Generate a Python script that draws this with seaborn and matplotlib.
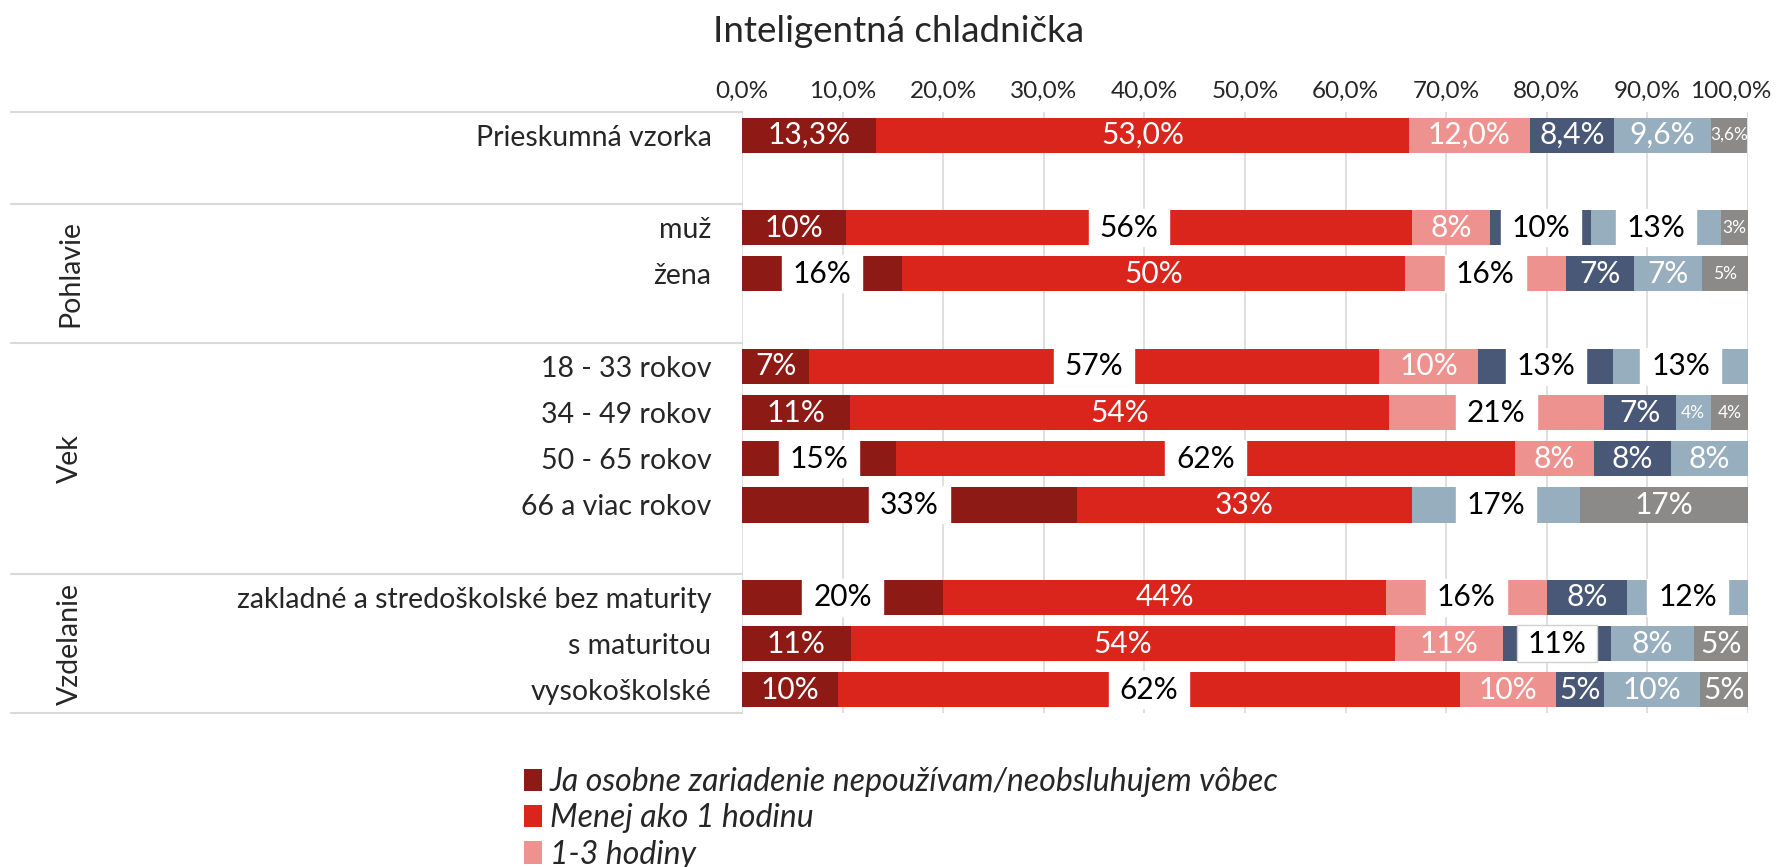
import numpy as np
import matplotlib
matplotlib.use("Agg")
import matplotlib.pyplot as plt
from matplotlib.patches import Patch, Rectangle
from matplotlib.transforms import ScaledTranslation
import seaborn as sns

title = "Inteligentná chladnička"

# rows of the chart, blank strings are the gaps between groups
categories = ["Prieskumná vzorka", " ",
              "muž", "žena", "  ",
              "18 - 33 rokov", "34 - 49 rokov", "50 - 65 rokov", "66 a viac rokov", "   ",
              "zakladné a stredoškolské bez maturity", "s maturitou", "vysokoškolské"]
group_of = [0, 0, 1, 1, 1, 2, 2, 2, 2, 2, 3, 3, 3]
group_names = ["", "Pohlavie", "Vek", "Vzdelanie"]

# percentages per answer, one value per row
nepouzivam = [13.3, 0, 10.3, 15.9, 0, 6.7, 10.7, 15.3, 33.3, 0, 20.0, 10.8, 9.5]
menej_1h   = [53.0, 0, 56.3, 50.0, 0, 56.6, 53.6, 61.5, 33.3, 0, 44.0, 54.1, 61.9]
hod_1_3    = [12.0, 0, 7.8, 16.0, 0, 9.9, 21.4, 7.9, 0.0, 0, 16.0, 10.7, 9.5]
series_4   = [8.4, 0, 10.0, 6.8, 0, 13.4, 7.1, 7.6, 0.0, 0, 8.0, 10.8, 4.8]
series_5   = [9.6, 0, 12.9, 6.7, 0, 13.4, 3.5, 7.7, 16.7, 0, 12.0, 8.2, 9.5]
series_6   = [3.6, 0, 2.7, 4.6, 0, 0.0, 3.7, 0.0, 16.7, 0, 0.0, 5.4, 4.8]

legend_labels = ["Ja osobne zariadenie nepoužívam/neobsluhujem vôbec",
                 "Menej ako 1 hodinu",
                 "1-3 hodiny"]
colors = ["#8E1A16", "#DA251D", "#EE928F", "#4A5878", "#97AEBF", "#8C8A88"]

# labels drawn in a white box with dark text (row, series)
boxed = [("muž", 1), ("muž", 3), ("muž", 4),
         ("žena", 0), ("žena", 2),
         ("18 - 33 rokov", 1), ("18 - 33 rokov", 3), ("18 - 33 rokov", 4),
         ("34 - 49 rokov", 2),
         ("50 - 65 rokov", 0), ("50 - 65 rokov", 1),
         ("66 a viac rokov", 0), ("66 a viac rokov", 4),
         ("zakladné a stredoškolské bez maturity", 0),
         ("zakladné a stredoškolské bez maturity", 2),
         ("zakladné a stredoškolské bez maturity", 4),
         ("s maturitou", 3),
         ("vysokoškolské", 1)]
small = [("Prieskumná vzorka", 5), ("muž", 5), ("žena", 5),
         ("34 - 49 rokov", 4), ("34 - 49 rokov", 5)]

sns.set_theme(style="white")
plt.rcParams["font.family"] = ["Lato", "DejaVu Sans"]

vals = np.array([nepouzivam, menej_1h, hod_1_3, series_4, series_5, series_6])
cum = np.cumsum(vals, axis=0)
bar_h = 0.76

fig = plt.figure(figsize=(17.8, 8.67), dpi=100)
ax = fig.add_axes([742 / 1780, 1 - 713 / 867, 1006 / 1780, 601 / 867])

# stacked bars: draw cumulative totals from the widest down
for k in range(len(vals) - 1, -1, -1):
    sns.barplot(x=cum[k], y=categories, order=categories, orient="h",
                color=colors[k], saturation=1, width=bar_h, linewidth=0,
                errorbar=None, ax=ax)

ax.set_xlim(0, 100)
ax.set_ylim(len(categories) - 0.5, -0.5)
ax.xaxis.tick_top()
ticks = list(range(0, 101, 10))
ax.set_xticks(ticks)
ax.set_xticklabels([f"{t:.1f}".replace(".", ",") + "%" for t in ticks], fontsize=17.5)
ax.tick_params(axis="x", length=0, pad=7.5)
ax.tick_params(axis="y", length=0, pad=22, labelsize=20.5)
# last tick label is nudged left so it stays inside the figure
last = ax.get_xticklabels()[-1]
last.set_transform(last.get_transform() + ScaledTranslation(-0.17, 0, fig.dpi_scale_trans))
ax.grid(axis="x", color="#D9D9D9", lw=1.2)
ax.grid(axis="y", visible=False)
ax.set_axisbelow(True)
ax.set_xlabel("")
ax.set_ylabel("")
for s in ax.spines.values():
    s.set_visible(False)

# value labels
for i, cat in enumerate(categories):
    left = 0
    for k in range(len(vals)):
        v = vals[k][i]
        if v > 0:
            cx = left + v / 2
            if cat == "Prieskumná vzorka":
                txt = f"{v:.1f}".replace(".", ",") + "%"
            else:
                txt = f"{v:.0f}%"
            fs = 12.5 if (cat, k) in small else 21.5
            if (cat, k) in boxed:
                edge = "#D0D0D0" if cat == "s maturitou" else "white"
                ax.add_patch(Rectangle((cx - 4, i - bar_h / 2 - 0.02), 8, bar_h + 0.04,
                                       facecolor="white", edgecolor=edge, lw=1, zorder=3))
                ax.text(cx, i, txt, ha="center", va="center", fontsize=fs,
                        color="black", zorder=4)
            else:
                ax.text(cx, i, txt, ha="center", va="center", fontsize=fs,
                        color="white", zorder=4)
        left += v

# group separators and group names on the left
ytr = ax.get_yaxis_transform()
x_left = (11 - 742) / 1006
bounds = [-0.5]
for g in range(len(group_names)):
    idx = [i for i, gg in enumerate(group_of) if gg == g]
    bounds.append(max(idx) + 0.5)
    if group_names[g]:
        ax.text((70 - 742) / 1006, (min(idx) + max(idx)) / 2, group_names[g],
                rotation=90, ha="center", va="center", fontsize=20.5,
                transform=ytr, clip_on=False)
for b in bounds:
    ax.plot([x_left, 0], [b, b], color="#D9D9D9", lw=1.5, transform=ytr, clip_on=False)

fig.text(899 / 1780, 1 - 32 / 867, title, ha="center", va="center", fontsize=26.5)

handles = [Patch(facecolor=c, edgecolor="none") for c in colors[:3]]
fig.legend(handles, legend_labels, loc="upper left",
           bbox_to_anchor=(524 / 1780, 1 - 767 / 867), frameon=False,
           prop={"size": 23, "style": "italic"}, handlelength=0.55, handleheight=0.7,
           handletextpad=0.25, labelspacing=0.2, borderaxespad=0, borderpad=0)

fig.savefig("out.png", dpi=100)
